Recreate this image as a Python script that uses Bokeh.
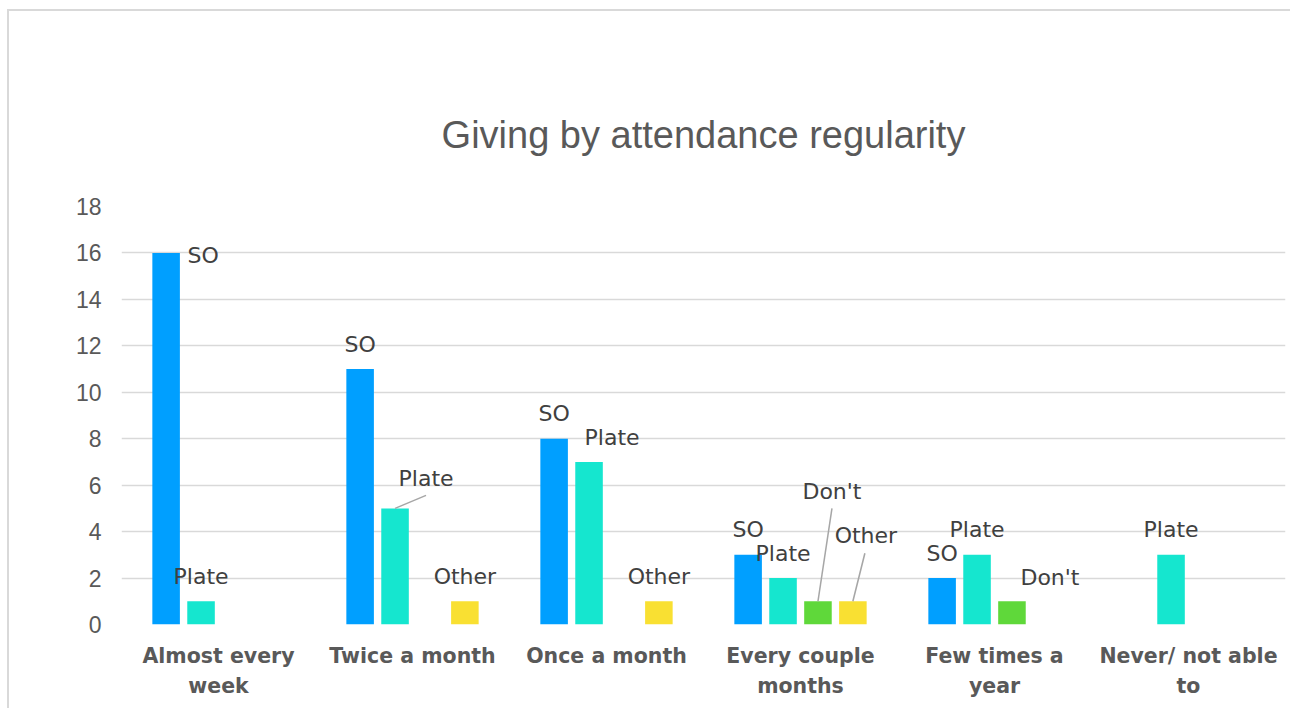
from bokeh.plotting import figure
from bokeh.models import ColumnDataSource, Range1d, FixedTicker, LabelSet, Title
from bokeh.transform import dodge
from bokeh.core.properties import value
from bokeh.embed import file_html
from bokeh.resources import INLINE

# ---------------- data ----------------
categories = ["Almost every\nweek", "Twice a month", "Once a month",
              "Every couple\nmonths", "Few times a\nyear", "Never/ not able\nto"]
series = ["SO", "Plate", "Don't", "Other"]
so_values = [16, 11, 8, 3, 2, 0]
plate_values = [1, 5, 7, 2, 3, 3]
dont_values = [0, 0, 0, 1, 1, 0]
other_values = [0, 1, 1, 1, 0, 0]
y_ticks = [0, 2, 4, 6, 8, 10, 12, 14, 16, 18]

# ---------------- styling ----------------
colors = ["#009FFF", "#15E6CF", "#5FD83A", "#F9E032"]
offsets = [-0.27, -0.09, 0.09, 0.27]
bar_width = 0.142
# label placement (pixels relative to bar top centre); default (0, 25)
label_shift = {
    (0, "SO"): (37, -3),
    (1, "Plate"): (31, 30),
    (2, "Plate"): (23, 24),
    (3, "Don't"): (14, 110),
    (3, "Other"): (13, 66),
    (4, "Don't"): (38, 24),
}
# leader line ends (pixels relative to bar top centre)
leaders = {
    (1, "Plate"): (31, 13),
    (3, "Don't"): (14, 93),
    (3, "Other"): (12, 48),
}

W, H = 1290, 708
BL, BR, BT, BB = 121, 5, 206, 84
frame_w = W - BL - BR
frame_h = H - BT - BB
n = len(categories)
px_x = frame_w / n
px_y = frame_h / 18.0

p = figure(width=W, height=H, output_backend="svg", toolbar_location=None,
           x_range=Range1d(0, n), y_range=Range1d(0, 18),
           min_border_left=BL, min_border_right=BR,
           min_border_top=BT, min_border_bottom=BB,
           background_fill_color="white", border_fill_color=None)
p.outline_line_color = None
p.styles = {"background": "linear-gradient(#d9d9d9,#d9d9d9) 7px 9px / 2px 100% no-repeat, "
                          "linear-gradient(#d9d9d9,#d9d9d9) 7px 9px / 100% 2px no-repeat, white"}

title = Title(text="Giving by attendance regularity", align="center",
              text_font="Liberation Sans", text_font_size="38px",
              text_font_style="normal", text_color="#595959", standoff=102,
              offset=-3)
p.add_layout(title, "above")

all_values = [so_values, plate_values, dont_values, other_values]
xc = [i + 0.5 for i in range(n)]

for j, (name, vals) in enumerate(zip(series, all_values)):
    src = ColumnDataSource(dict(x=xc, top=vals))
    p.vbar(x=dodge("x", offsets[j]), top="top", width=bar_width, source=src,
           fill_color=colors[j], line_color=None)
    lx, ly, lt, dx, dy = [], [], [], [], []
    for i, v in enumerate(vals):
        if v > 0:
            sx, sy = label_shift.get((i, name), (0, 25))
            lx.append(xc[i]); ly.append(v); lt.append(name)
            dx.append(sx); dy.append(sy)
    lsrc = ColumnDataSource(dict(x=lx, y=ly, t=lt, dx=dx, dy=dy))
    p.add_layout(LabelSet(x=dodge("x", offsets[j]), y="y", text="t",
                          x_offset="dx", y_offset="dy", source=lsrc,
                          text_font=value("DejaVu Sans"), text_font_size="22px",
                          text_color="#404040", text_align="center",
                          text_baseline="middle"))
    sx0, sy0, sx1, sy1 = [], [], [], []
    for i, v in enumerate(vals):
        if (i, name) in leaders:
            ex, ey = leaders[(i, name)]
            bx = xc[i] + offsets[j]
            sx0.append(bx); sy0.append(v)
            sx1.append(bx + ex / px_x); sy1.append(v + ey / px_y)
    if sx0:
        p.segment(x0=sx0, y0=sy0, x1=sx1, y1=sy1, line_color="#a6a6a6",
                  line_width=1.5)

# axes
p.xaxis.ticker = FixedTicker(ticks=xc)
p.xaxis.major_label_overrides = {x: c for x, c in zip(xc, categories)}
p.xaxis.axis_line_color = None
p.xaxis.major_tick_line_color = None
p.xaxis.minor_tick_line_color = None
p.xaxis.major_tick_out = 0
p.xaxis.major_label_standoff = 19
p.xaxis.major_label_text_font = "DejaVu Sans"
p.xaxis.major_label_text_font_style = "bold"
p.xaxis.major_label_text_font_size = "20.5px"
p.xaxis.major_label_text_color = "#595959"
p.xaxis.major_label_text_line_height = 1.25

p.yaxis.ticker = FixedTicker(ticks=y_ticks)
p.yaxis.axis_line_color = None
p.yaxis.major_tick_line_color = None
p.yaxis.minor_tick_line_color = None
p.yaxis.major_tick_out = 0
p.yaxis.major_label_standoff = 20
p.yaxis.major_label_text_font = "Liberation Sans"
p.yaxis.major_label_text_font_size = "23px"
p.yaxis.major_label_text_color = "#595959"

p.xgrid.grid_line_color = None
p.ygrid.ticker = FixedTicker(ticks=y_ticks)
p.ygrid.grid_line_color = "#d9d9d9"
p.ygrid.grid_line_width = 1.5

open("out.html", "w").write(file_html(p, INLINE))
